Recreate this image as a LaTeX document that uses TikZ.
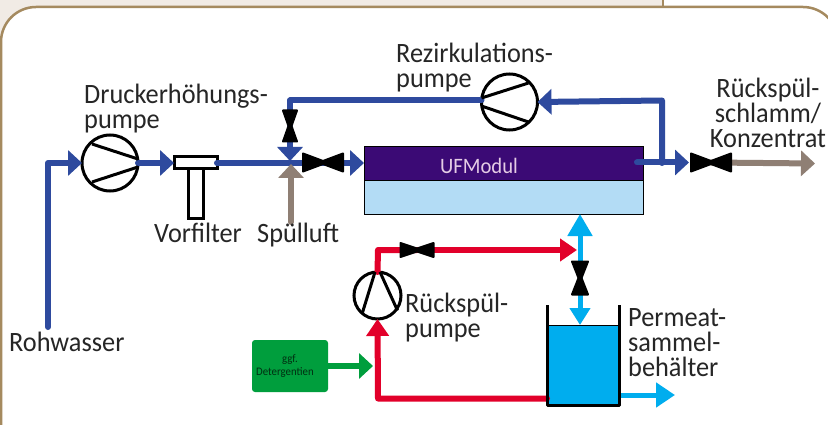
\documentclass[tikz,border=0pt]{standalone}
\usepackage{fontspec}
\setmainfont{Carlito}[FakeStretch=0.94]
\usepackage{xcolor}
\usepackage{tikz}
\usetikzlibrary{positioning,arrows.meta,calc}
\definecolor{pipeblue}{HTML}{2E4A9E}
\definecolor{pipebrown}{HTML}{8F7F74}
\definecolor{pipered}{HTML}{E2002A}
\definecolor{pipecyan}{HTML}{00ADEE}
\definecolor{boxgreen}{HTML}{009E3D}
\definecolor{frametan}{HTML}{A58A5F}
\definecolor{bandbeige}{HTML}{F1EBE5}
\definecolor{modpurple}{HTML}{3B0A75}
\definecolor{modlight}{HTML}{B3DCF5}
\tikzset{
  pipe/.style={line width=6pt,line cap=round,line join=round},
  bluepipe/.style={pipe,draw=pipeblue},
  redpipe/.style={pipe,draw=pipered},
  bluearrow/.style={bluepipe,-{Triangle[length=14pt,width=25pt]}},
  brownarrow/.style={pipe,draw=pipebrown,-{Triangle[length=14pt,width=25pt]}},
  redarrow/.style={redpipe,-{Triangle[length=17pt,width=22pt]}},
  cyanpipe/.style={pipe,line width=5pt,draw=pipecyan},
  cyanup/.style={cyanpipe,-{Triangle[length=22pt,width=24pt]}},
  cyandown/.style={cyanpipe,-{Triangle[length=17pt,width=20pt]}},
  cyanout/.style={cyanpipe,-{Triangle[length=19pt,width=24pt]}},
  greenarrow/.style={pipe,draw=boxgreen,-{Triangle[length=14pt,width=25pt]}},
  pumpbig/.style={circle,draw,line width=3pt,fill=white,minimum size=56pt,inner sep=0pt,outer sep=0pt},
  pumpsmall/.style={pumpbig,minimum size=47pt},
  vane/.style={line width=3pt},
  valvefill/.style={fill=black,draw=black,line width=2pt,line join=round},
  filterpart/.style={draw,line width=3pt,fill=white,inner sep=0pt,outer sep=0pt},
  modpart/.style={draw,line width=0.8pt,inner sep=0pt,outer sep=0pt,minimum width=279pt,minimum height=34pt},
  lbl/.style={inner sep=0pt,align=left,text=black!85,font=\fontsize{28}{25}\selectfont},
}
\begin{document}
\begin{tikzpicture}[x=1pt,y=-1pt]
  \clip (0,0) rectangle (828,425);
  \fill[bandbeige] (0,0) rectangle (663,20);
  \fill[bandbeige] (0,0) rectangle (30,50);
  \draw[frametan,line width=2.5pt,fill=white,rounded corners=35pt] (1,460) -- (1,7) -- (838,7) -- (838,460);
  \draw[frametan,line width=2pt] (663,0) -- (663,7);
  \coordinate (raw) at (48,327);
  \coordinate (junction) at (290,163);
  \coordinate (bluetip) at (290,161);
  \coordinate (airin) at (291,222);
  \coordinate (airtip) at (291,164);
  \coordinate (recircleft) at (290,100.5);
  \coordinate (recircright) at (662,100.5);
  \coordinate (conc) at (637,162.5);
  \coordinate (concout) at (689,162.5);
  \coordinate (sludge) at (815,163.5);
  \coordinate (vleft) at (323,162.5);
  \coordinate (vright) at (711,162.5);
  \coordinate (vtop) at (290,126);
  \coordinate (vred) at (417,250);
  \coordinate (vperm) at (580,278);
  \coordinate (redjoin) at (378,398.5);
  \coordinate (redtop) at (378,250);
  \coordinate (redtip) at (577,250);
  \coordinate (greentip) at (373,366);
  \coordinate (tanktop) at (580,325);
  \coordinate (permout) at (675,395);

  \node[pumpbig] (pumpA) at (110,163) {};
  \node[pumpbig] (pumpB) at (509.5,102) {};
  \node[pumpsmall] (pumpC) at (377.5,295.5) {};
  \node[filterpart,minimum width=43pt,minimum height=12pt] (filtertop) at (195.5,163) {};
  \node[filterpart,minimum width=15pt,minimum height=50pt,below=0pt of filtertop] (filterstem) {};
  \node[modpart,fill=modpurple] (modtop) at (503.5,163) {};
  \node[modpart,fill=modlight,below=0pt of modtop] (modbottom) {};
  \node[text=violet!20,inner sep=0pt,font=\fontsize{22}{22}\selectfont] (modlabel) at (479,165.5) {UFModul};
  \node[rectangle,fill=pipecyan,inner sep=0pt,outer sep=0pt,minimum width=72pt,minimum height=78pt] (water) at (583,364.5) {};
  \node[fill=boxgreen,rounded corners=3pt,inner sep=0pt,outer sep=0pt,minimum width=76pt,minimum height=52pt,
        align=center,text=black!70!boxgreen,font=\fontsize{11.5}{12.5}\selectfont] (detergent) at (290,366) {ggf.\\Detergentien\hspace*{10pt}};

  \draw[bluearrow] (raw) |- (pumpA.west);
  \draw[bluearrow] (pumpA.east) -- (filtertop.west);
  \draw[bluepipe] (filtertop.east) -- (junction);
  \draw[bluearrow] (junction) -- (modtop.west);
  \draw[bluearrow] (recircleft -| pumpB.west) -- (recircleft) -- (bluetip);
  \draw[bluearrow] (conc) -- (concout);
  \draw[bluearrow] (junction -| recircright) -- (recircright) -- (pumpB.east);
  \draw[brownarrow] (airin) -- (airtip);
  \draw[brownarrow] (vright) -- (sludge);
  \draw[redarrow] (water.west |- redjoin) -- (redjoin) -- (pumpC.south);
  \draw[redpipe] (pumpC.north) -- (redtop) -- (vred);
  \draw[redarrow] (vred) -- (redtip);
  \draw[greenarrow] (detergent.east) -- (greentip);
  \draw[cyanup] (vperm) -- (modbottom.south -| vperm);
  \draw[cyandown] (vperm) -- (tanktop);
  \draw[cyanout] (water.east |- permout) -- (permout);

  % impeller vanes
  \draw[vane] ($(pumpA)+(-18,-19)$) -- ($(pumpA.east)+(0,-4)$);
  \draw[vane] ($(pumpA)+(-18,19)$) -- ($(pumpA.east)+(0,4)$);
  \draw[vane] ($(pumpB)+(19,-19)$) -- ($(pumpB.west)+(0,-4)$);
  \draw[vane] ($(pumpB)+(19,20)$) -- ($(pumpB.west)+(0,4)$);
  \draw[vane] ($(pumpC)+(-15,17)$) -- ($(pumpC.north)+(-2.5,0)$);
  \draw[vane] ($(pumpC)+(20,15)$) -- ($(pumpC.north)+(2.5,0)$);

  % valves
  \foreach \v/\l/\h in {vleft/20/9,vright/20/9,vred/16.5/7}
    \draw[valvefill,shift={(\v)}] (-\l,-\h) -- (0,-1.5) -- (\l,-\h) -- (\l,\h) -- (0,1.5) -- (-\l,\h) -- cycle;
  \foreach \v/\l/\h in {vtop/15.5/7,vperm/16.5/8}
    \draw[valvefill,shift={(\v)}] (-\h,-\l) -- (-1.5,0) -- (-\h,\l) -- (\h,\l) -- (1.5,0) -- (\h,-\l) -- cycle;

  % tank walls
  \draw[line width=0.8pt] (water.north west) -- (water.north east);
  \draw[line width=3pt,line join=round] (547,305) |- (619,405) -- (619,305);

  \node[lbl,anchor=north west] (labelA) at (84,84) {Druckerhöhungs-\\pumpe};
  \node[lbl,anchor=north west] (labelB) at (396,43) {Rezirkulations-\\pumpe};
  \node[lbl,anchor=north,align=center] (labelC) at (768,78) {Rückspül-\\schlamm/\\Konzentrat};
  \node[lbl,anchor=base west] (labelD) at (154,242) {Vorfilter};
  \node[lbl,anchor=base west] (labelE) at (257,242) {Spülluft};
  \node[lbl,anchor=base west] (labelF) at (9,351) {Rohwasser};
  \node[lbl,anchor=north west] (labelG) at (405,293) {Rückspül-\\pumpe};
  \node[lbl,anchor=north west] (labelH) at (628,308) {Permeat-\\sammel-\\behälter};
\end{tikzpicture}
\end{document}
